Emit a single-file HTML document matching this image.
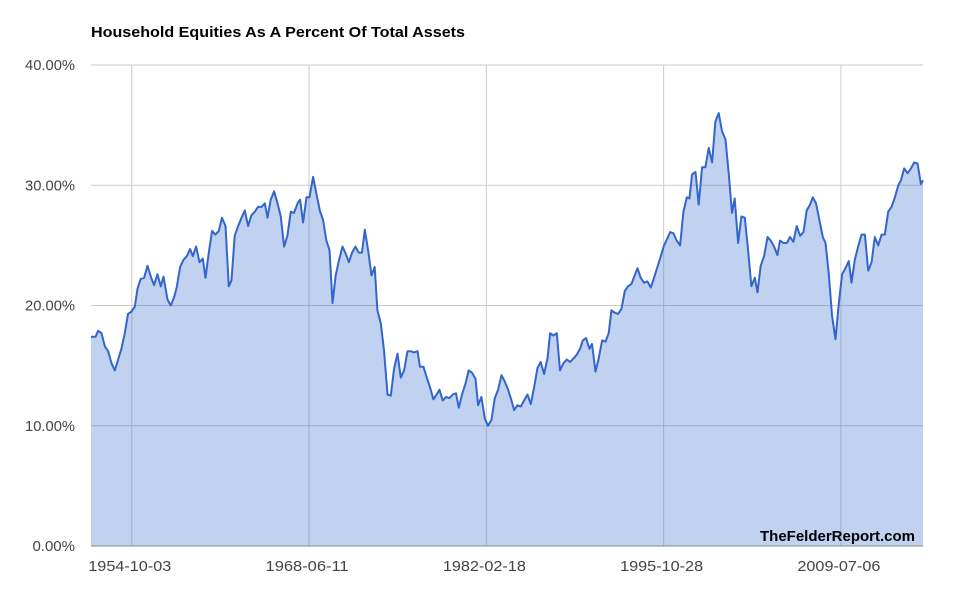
<!DOCTYPE html>
<html><head><meta charset="utf-8"><style>
body{margin:0;background:#fff;font-family:"Liberation Sans",Arial,sans-serif;}
svg text{font-family:"Liberation Sans",Arial,sans-serif;}
</style></head><body>
<svg id="chart" width="957" height="595" viewBox="0 0 957 595" xmlns="http://www.w3.org/2000/svg">
<text x="91" y="37" font-size="15" font-weight="bold" fill="#000" textLength="374" lengthAdjust="spacingAndGlyphs">Household Equities As A Percent Of Total Assets</text>
<g id="grid"></g>
<g id="series"></g>
<g id="axes"></g>
<text x="760" y="541" font-size="15" font-weight="bold" fill="#000" textLength="155" lengthAdjust="spacingAndGlyphs">TheFelderReport.com</text>
</svg>
<script>
const years = [1951.6,1951.95,1952.15,1952.41,1952.67,1952.92,1953.18,1953.44,1953.69,1953.95,1954.21,1954.46,1954.73,1954.98,1955.19,1955.44,1955.7,1955.96,1956.22,1956.47,1956.73,1956.99,1957.2,1957.51,1957.76,1958.02,1958.22,1958.48,1958.74,1959.0,1959.25,1959.46,1959.72,1959.98,1960.23,1960.44,1960.7,1960.95,1961.21,1961.47,1961.72,1961.99,1962.24,1962.45,1962.7,1962.96,1963.22,1963.48,1963.73,1963.99,1964.25,1964.5,1964.77,1965.02,1965.23,1965.48,1965.74,1966.0,1966.26,1966.51,1966.77,1967.03,1967.28,1967.59,1967.75,1967.98,1968.24,1968.47,1968.75,1969.01,1969.27,1969.52,1969.78,1970.02,1970.25,1970.5,1970.76,1971.02,1971.28,1971.51,1971.76,1972.02,1972.28,1972.53,1972.74,1973.0,1973.26,1973.51,1973.72,1973.98,1974.23,1974.5,1974.75,1975.0,1975.27,1975.52,1975.78,1976.04,1976.29,1976.55,1976.81,1977.01,1977.28,1977.53,1977.78,1978.04,1978.3,1978.51,1978.76,1979.02,1979.28,1979.54,1979.79,1980.0,1980.25,1980.52,1980.77,1981.03,1981.29,1981.49,1981.75,1982.01,1982.26,1982.53,1982.78,1983.04,1983.3,1983.55,1983.81,1984.07,1984.27,1984.53,1984.79,1985.04,1985.31,1985.56,1985.82,1986.08,1986.33,1986.59,1986.85,1987.05,1987.31,1987.57,1987.82,1988.08,1988.34,1988.6,1988.86,1989.11,1989.37,1989.58,1989.83,1990.09,1990.29,1990.56,1990.81,1991.07,1991.33,1991.58,1991.79,1992.05,1992.3,1992.56,1992.82,1993.07,1993.34,1993.59,1993.8,1994.05,1994.31,1994.57,1994.83,1995.08,1995.34,1995.6,1995.85,1996.12,1996.32,1996.58,1996.83,1997.09,1997.35,1997.61,1997.81,1998.02,1998.28,1998.53,1998.79,1999.05,1999.3,1999.56,1999.82,2000.07,2000.33,2000.6,2000.85,2001.1,2001.31,2001.57,2001.83,2002.09,2002.34,2002.6,2002.86,2003.07,2003.32,2003.58,2003.84,2004.1,2004.35,2004.61,2004.81,2005.07,2005.33,2005.58,2005.84,2006.1,2006.36,2006.62,2006.87,2007.13,2007.34,2007.59,2007.85,2008.11,2008.32,2008.57,2008.83,2009.09,2009.34,2009.6,2009.86,2010.12,2010.33,2010.58,2010.84,2011.1,2011.36,2011.62,2011.88,2012.13,2012.39,2012.65,2012.9,2013.16,2013.42,2013.68,2013.94,2014.14,2014.4,2014.66,2014.92,2015.17,2015.43,2015.69,2015.85];
const values = [17.4,17.4,17.9,17.7,16.6,16.2,15.2,14.6,15.5,16.4,17.7,19.3,19.5,19.9,21.4,22.2,22.3,23.3,22.4,21.7,22.6,21.6,22.4,20.5,20.0,20.7,21.5,23.2,23.8,24.1,24.7,24.1,24.9,23.6,23.9,22.3,24.4,26.2,25.9,26.2,27.3,26.6,21.6,22.1,25.8,26.6,27.3,27.9,26.6,27.5,27.8,28.2,28.2,28.5,27.3,28.8,29.5,28.5,27.4,24.9,25.8,27.8,27.7,28.6,28.8,26.9,29.0,29.0,30.7,29.3,27.9,27.1,25.4,24.6,20.2,22.5,23.8,24.9,24.3,23.6,24.4,24.9,24.4,24.4,26.3,24.6,22.5,23.2,19.6,18.5,16.3,12.6,12.5,14.7,16.0,14.0,14.6,16.2,16.2,16.1,16.2,14.9,14.9,14.0,13.2,12.2,12.6,13.0,12.1,12.4,12.3,12.6,12.7,11.5,12.6,13.5,14.6,14.4,13.9,11.7,12.4,10.6,10.0,10.5,12.3,13.0,14.2,13.7,13.0,12.1,11.3,11.7,11.6,12.1,12.6,11.8,13.2,14.8,15.3,14.3,15.6,17.7,17.5,17.7,14.6,15.2,15.5,15.3,15.6,15.9,16.4,17.1,17.3,16.4,16.8,14.5,15.6,17.1,17.0,17.7,19.6,19.4,19.3,19.7,21.2,21.6,21.8,22.5,23.1,22.3,21.9,22.0,21.5,22.3,23.2,24.1,25.0,25.6,26.1,26.0,25.4,25.0,27.8,29.0,28.9,30.9,31.1,28.4,31.5,31.5,33.1,31.9,35.3,36.0,34.5,33.8,30.9,27.7,28.9,25.2,27.4,27.3,24.6,21.6,22.3,21.1,23.3,24.1,25.7,25.4,24.9,24.2,25.4,25.2,25.2,25.7,25.3,26.6,25.8,26.1,27.9,28.4,29.0,28.5,27.1,25.7,25.2,22.7,19.1,17.2,20.1,22.6,23.1,23.7,21.9,23.8,24.9,25.9,25.9,22.9,23.6,25.7,25.0,25.9,25.9,27.8,28.2,29.0,30.0,30.4,31.4,31.0,31.4,31.9,31.8,30.1,30.4];
const yTicks = [0,10,20,30,40];
const yTickLabels = ["0.00%","10.00%","20.00%","30.00%","40.00%"];
const xTickYears = [1954.75,1968.44,1982.13,1995.82,2009.51];
const xTickLabels = ["1954-10-03","1968-06-11","1982-02-18","1995-10-28","2009-07-06"];

const NS="http://www.w3.org/2000/svg";
const L=91,R=923,T=65,B=546, X0=1951.6, X1=2015.85, Y1=40;
function xs(v){return L+(v-X0)/(X1-X0)*(R-L);}
function ys(v){return B-(v/Y1)*(B-T);}
function mk(tag,attrs,parent){const e=document.createElementNS(NS,tag);for(const k in attrs)e.setAttribute(k,attrs[k]);parent.appendChild(e);return e;}
const grid=document.getElementById('grid'),series=document.getElementById('series'),axes=document.getElementById('axes');
yTicks.forEach((t,i)=>{
  const ln=mk('line',{x1:L,x2:R,y1:ys(t),y2:ys(t),stroke:t===0?'#888':'#ccc','stroke-width':1},t===0?axes:grid);
  
  
  const tx=mk('text',{x:75,y:ys(t)+5,'font-size':15,fill:'#444','text-anchor':'end'},axes);
  tx.textContent=yTickLabels[i];
  if(yTickLabels[i].length===6){tx.setAttribute('textLength','50');tx.setAttribute('lengthAdjust','spacingAndGlyphs');}
  
  
});
xTickYears.forEach((yr,i)=>{
  const ln=mk('line',{x1:xs(yr),x2:xs(yr),y1:T,y2:B,stroke:'#ccc','stroke-width':1},grid);
  
  
  const tx=mk('text',{x:xs(yr)-2,y:571,'font-size':15,fill:'#444','text-anchor':'middle',textLength:83,lengthAdjust:'spacingAndGlyphs'},axes);
  tx.textContent=xTickLabels[i];
  
  
});
let pts=years.map((y,i)=>xs(y).toFixed(1)+','+ys(values[i]).toFixed(1));
const area=mk('polygon',{points:xs(years[0])+','+B+' '+pts.join(' ')+' '+xs(years[years.length-1])+','+B,fill:'#3366cc','fill-opacity':0.3},series);


const line=mk('polyline',{points:pts.join(' '),fill:'none',stroke:'#3366cc','stroke-width':2,'stroke-linejoin':'round'},series);


</script>
</body></html>
